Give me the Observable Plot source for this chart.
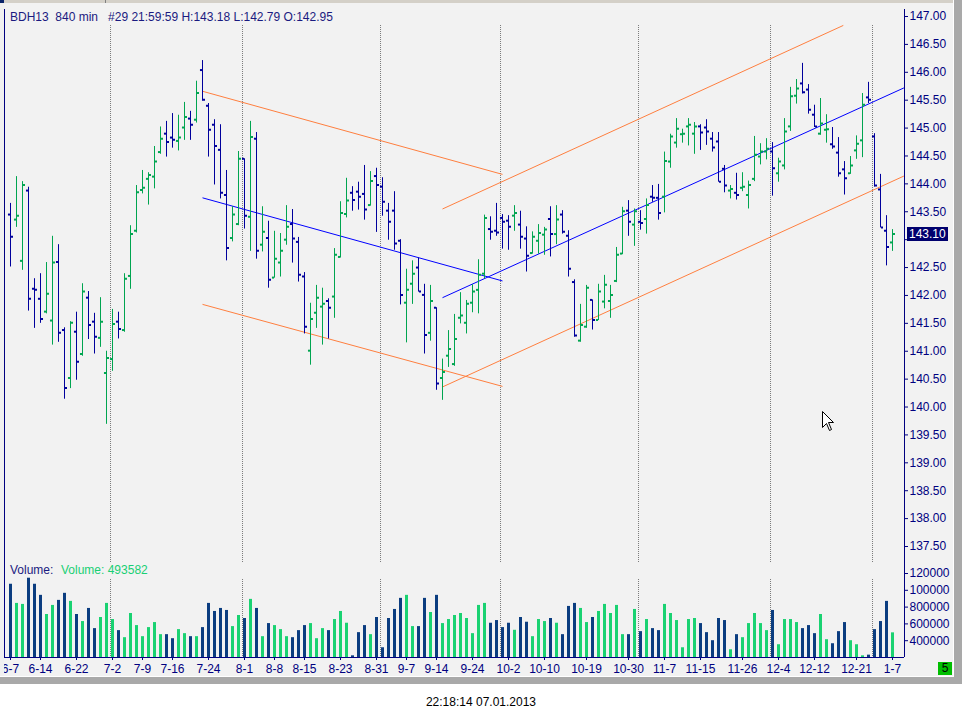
<!DOCTYPE html>
<html><head><meta charset="utf-8">
<script src="https://cdn.jsdelivr.net/npm/d3@7"></script>
<script src="https://cdn.jsdelivr.net/npm/@observablehq/plot@0.6"></script>
<style>
html,body{margin:0;padding:0;background:#fff;width:962px;height:719px;overflow:hidden;font-family:"Liberation Sans",Arial,sans-serif;}
#wrap{position:relative;width:962px;height:719px;}
.abs{position:absolute;}
.txt{font-size:12px;line-height:14px;white-space:pre;}
</style></head><body>
<div id="wrap">
  <div class="abs" style="left:0;top:3px;width:953px;height:673px;background:#F2F2F2;"></div>
  <div class="abs" style="left:0;top:0;width:962px;height:3px;background:#D4D0C8;"></div>
  <div class="abs" style="left:0;top:0;width:4px;height:3px;background:#0A246A;"></div>
  <div class="abs" style="left:105px;top:0;width:1px;height:3px;background:#808080;"></div>
  <div id="priceBox"></div>
  <div id="volBox"></div>
  <div class="abs" style="left:0;top:3px;width:4px;height:673px;background:#F0F0F0;z-index:5;"></div>
  <div class="abs" style="left:4px;top:9px;width:1px;height:649px;background:#000080;z-index:5;"></div>
  <div class="abs" style="left:953px;top:0;width:1px;height:677px;background:#FFFFFF;z-index:5;"></div>
  <div class="abs" style="left:954px;top:0;width:8px;height:684px;background:#A9A9A9;z-index:5;"></div>
  <div class="abs" style="left:0;top:676px;width:954px;height:1px;background:#FFFFFF;z-index:5;"></div>
  <div class="abs" style="left:0;top:677px;width:962px;height:7px;background:#A9A9A9;z-index:5;"></div>
  <div class="abs txt" id="header" style="left:10px;top:10px;color:#1A1A80;z-index:6;"></div>
  <div class="abs txt" style="left:10px;top:563px;color:#1A1A80;z-index:6;">Volume:</div>
  <div class="abs txt" id="volText" style="left:61px;top:563px;color:#19CF74;z-index:6;"></div>
  <div class="abs txt" id="stamp" style="left:0;top:695px;width:962px;text-align:center;color:#000;"></div>
  <div class="abs txt" id="pageBox" style="left:938px;top:662px;width:14px;height:13px;line-height:13px;background:#00BE00;color:#000;text-align:center;z-index:6;">5</div>
  <svg class="abs" style="left:822px;top:411px;z-index:7;" width="14" height="22" viewBox="0 0 14 22">
    <path d="M0.5,0.5 L0.5,16.5 L4.5,12.5 L7.5,19.5 L9.5,18.5 L6.5,11.5 L11.5,11.5 Z" fill="#FFFFFF" stroke="#000000" stroke-width="1"/>
  </svg>
</div>
<script>
const headerText = "BDH13  840 min   #29 21:59:59 H:143.18 L:142.79 O:142.95";
const timestampText = "22:18:14 07.01.2013";

const opens = [143.45,143.36,142.62,143.88,142.12,141.94,141.71,141.55,142.60,141.38,
140.52,141.35,140.95,141.96,141.53,141.24,140.61,140.86,141.53,141.38,
142.35,143.16,143.89,144.09,144.13,144.57,144.90,144.83,144.77,145.01,
145.17,145.15,146.04,145.40,145.06,144.61,143.80,143.03,143.28,144.45,
143.41,144.81,142.91,143.03,142.32,142.59,143.00,143.28,142.96,142.34,
141.01,141.69,141.80,141.90,141.98,142.69,143.46,143.84,143.86,143.82,
143.62,144.14,143.95,143.52,143.52,142.98,141.87,142.21,142.50,142.01,
141.33,141.78,140.52,140.92,140.77,141.60,141.51,141.87,142.10,142.39,
143.19,143.16,143.39,143.34,143.43,143.27,143.02,142.76,142.98,143.09,
143.37,143.10,143.45,143.07,142.24,141.19,141.44,141.92,141.56,141.89,
141.90,142.26,142.75,143.52,143.27,143.32,143.37,143.77,143.75,143.77,
144.40,144.74,144.89,145.03,144.90,145.03,145.01,144.81,144.76,144.27,
143.88,143.84,143.93,143.80,144.09,144.49,144.58,144.58,144.19,144.33,
145.03,145.58,145.80,145.69,145.24,144.90,144.97,144.71,144.56,144.26,
144.19,144.60,144.78,145.55,144.85,143.90,143.16,142.95];
const highs = [143.65,144.13,144.04,143.94,142.30,142.39,142.59,143.06,142.91,141.42,
141.53,141.70,142.21,142.07,141.68,141.96,141.00,141.75,141.70,142.39,
143.25,143.97,144.24,144.20,144.67,145.02,145.12,145.26,145.23,145.46,
145.30,145.84,146.21,145.44,145.15,145.06,144.24,143.59,144.58,144.45,
145.12,144.92,143.59,143.33,143.15,143.11,143.61,143.54,143.04,142.41,
141.86,142.18,142.13,141.94,142.84,143.68,144.10,143.95,144.03,144.33,
144.22,144.28,144.11,143.65,143.86,143.00,142.47,142.62,142.67,142.20,
142.18,141.78,140.86,141.37,141.66,142.05,141.91,142.19,142.64,143.44,
143.41,143.65,143.45,143.43,143.61,143.51,143.23,143.14,143.27,143.22,
143.59,143.61,143.52,143.16,142.28,141.84,142.18,141.92,142.20,142.36,
142.18,142.86,143.58,143.70,143.55,143.52,143.73,143.97,143.99,144.57,
144.89,145.17,144.98,145.17,145.10,145.06,145.15,144.92,144.92,144.33,
143.97,144.19,144.20,144.05,144.85,144.72,144.81,144.74,144.46,145.17,
145.73,145.87,146.16,145.78,145.41,145.53,145.24,145.01,144.83,144.40,
144.49,144.86,145.62,145.82,144.90,144.17,143.43,143.18];
const lows = [142.51,143.22,142.45,141.72,141.41,141.50,141.67,141.11,141.16,140.14,
140.33,140.48,140.91,141.21,140.95,141.07,139.69,140.64,141.22,141.34,
142.11,143.12,143.82,143.62,143.91,144.53,144.48,144.64,144.59,144.78,
144.78,145.09,145.48,144.48,143.98,143.73,142.62,142.96,143.25,143.19,
142.79,142.65,142.78,142.13,142.31,142.33,142.90,142.58,142.24,141.31,
140.75,141.41,141.11,141.22,141.59,142.67,143.39,143.51,143.53,143.35,
143.60,143.13,143.42,142.99,142.81,141.83,141.15,141.84,142.06,140.95,
141.18,140.30,140.12,140.71,140.73,141.49,141.31,141.69,141.67,142.30,
142.99,143.06,142.83,142.81,143.15,142.83,142.42,142.74,142.74,142.72,
142.69,142.91,143.10,142.33,141.25,141.16,141.41,141.38,141.55,141.76,
141.59,142.23,142.73,143.06,142.88,143.17,143.10,143.67,143.35,143.48,
144.28,144.64,144.73,144.68,144.53,144.60,144.69,144.57,144.03,143.84,
143.73,143.71,143.86,143.55,144.04,144.34,144.43,143.78,144.03,144.25,
144.94,145.43,145.61,145.25,145.01,144.87,144.73,144.62,144.12,143.80,
144.17,144.44,144.47,145.44,143.94,143.21,142.53,142.79];
const closes = [143.05,143.43,143.98,141.94,142.10,141.58,142.03,142.59,141.33,140.34,
141.51,140.81,142.07,141.47,141.26,141.53,140.88,141.49,141.40,142.30,
143.10,143.85,143.93,144.16,144.40,144.81,144.75,144.79,144.83,145.20,
145.06,145.63,145.51,144.97,144.68,143.84,142.85,143.45,144.45,143.43,
144.84,142.80,143.14,142.28,142.66,142.80,143.23,143.02,142.37,141.44,
141.58,141.96,141.85,141.78,142.73,143.48,143.70,143.71,143.77,143.54,
144.05,143.98,143.68,143.32,142.93,142.01,142.10,142.39,142.07,141.29,
141.90,140.42,140.63,141.04,141.22,141.64,141.85,142.07,142.37,143.39,
143.14,143.13,143.32,143.23,143.48,143.05,142.71,143.05,143.12,143.18,
143.10,143.36,143.14,142.48,141.28,141.47,142.14,141.56,142.07,142.19,
142.01,142.73,143.51,143.32,143.51,143.30,143.62,143.75,143.48,144.41,
144.85,144.99,144.90,145.06,145.03,144.92,144.94,144.65,144.04,143.97,
143.91,143.80,143.95,143.98,144.52,144.58,144.63,144.28,144.40,144.94,
145.57,145.71,145.64,145.33,145.03,145.08,144.98,144.67,144.19,144.10,
144.33,144.72,145.42,145.51,143.97,143.22,142.87,143.10];
const volumes = [1072000,844000,832000,1144000,1072000,940000,712000,820000,880000,964000,
868000,712000,628000,784000,544000,676000,844000,652000,520000,436000,
724000,580000,448000,556000,616000,472000,472000,424000,532000,484000,
448000,448000,556000,844000,748000,784000,760000,568000,700000,664000,
892000,784000,448000,604000,580000,532000,448000,436000,520000,580000,
604000,424000,544000,520000,652000,748000,608000,220000,496000,580000,
472000,676000,316000,664000,772000,904000,940000,568000,568000,904000,
736000,940000,604000,652000,700000,724000,664000,484000,820000,844000,
608000,640000,556000,608000,524000,676000,620000,448000,652000,628000,
664000,608000,472000,808000,844000,784000,616000,676000,748000,832000,
724000,820000,472000,472000,772000,508000,652000,544000,520000,832000,
724000,640000,316000,652000,664000,604000,496000,400000,664000,640000,
292000,472000,436000,604000,724000,604000,520000,760000,352000,652000,
652000,616000,544000,580000,484000,712000,412000,364000,508000,616000,
400000,352000,220000,228000,532000,628000,868000,493582];

const dateTickIdx = [0,5,11,17,22,27,33,39,44,49,55,61,66,71,77,83,89,96,103,109,115,122,128,134,141,147];
const dateTickText = ["6-7","6-14","6-22","7-2","7-9","7-16","7-24","8-1","8-8","8-15","8-23","8-31","9-7","9-14","9-24","10-2","10-10","10-19","10-30","11-7","11-15","11-26","12-4","12-12","12-21","1-7"];
const monthStartIdx = [17,39,62,82,105,127,144];

const priceTicks = [137.5,138,138.5,139,139.5,140,140.5,141,141.5,142,142.5,143,143.5,144,144.5,145,145.5,146,146.5,147];
const volTicks = [400000,600000,800000,1000000,1200000];
const volTickText = ["400000","600000","800000","100000","120000"];

const trendX1 = [32,32,32,72,72,72];
const trendY1 = [145.66,143.75,141.84,143.55,141.96,140.36];
const trendX2 = [82,82,82,138.8,148.9,148.9];
const trendY2 = [144.17,142.26,140.37,146.84,145.72,144.14];
const trendKind = ["channel","center","channel","channel","center","channel"];

const priceUp = "#00A550", priceDown = "#00009C";
const volUp = "#1AD272", volDown = "#0B3D80";
const navy = "#000080";
const sepColor = "#7A7A7A";

const bars = opens.map((o, i) => ({i, open: o, high: highs[i], low: lows[i], close: closes[i], volume: volumes[i], up: closes[i] >= o}));
const trends = trendX1.map((x, k) => ({x1: x, y1: trendY1[k], x2: trendX2[k], y2: trendY2[k], color: trendKind[k] === "center" ? "#0000FF" : "#FF7F3F"}));
const lastClose = closes[closes.length - 1];

document.getElementById("header").textContent = headerText;
document.getElementById("stamp").textContent = timestampText;
document.getElementById("volText").textContent = "Volume: " + volumes[volumes.length - 1];

const baseStyle = {background: "transparent", color: navy, fontFamily: "'Liberation Sans', Arial, sans-serif", fontSize: "12px", overflow: "visible"};
const xDomain = [-1, 149];

// the last-price tag hides the axis label that it sits on, as in the reference
const priceLabel = d => Math.abs(d - lastClose) < 0.13 ? "" : d.toFixed(2);

const price = Plot.plot({
  width: 962, height: 563,
  marginLeft: 4, marginRight: 58, marginTop: 16, marginBottom: 17,
  style: baseStyle,
  x: {domain: xDomain, axis: null},
  y: {domain: [137.5, 147], axis: null},
  marks: [
    Plot.ruleX(monthStartIdx, {x: d => d - 0.33, stroke: sepColor, strokeDasharray: "1,1", insetTop: 9, insetBottom: -16}),
    Plot.link(trends, {x1: "x1", y1: "y1", x2: "x2", y2: "y2", stroke: "color", strokeWidth: 1}),
    Plot.ruleX(bars, {x: "i", y1: "low", y2: "high", stroke: d => d.up ? priceUp : priceDown, strokeWidth: 1}),
    Plot.ruleY(bars, {y: "open", x1: d => d.i - 0.34, x2: d => d.i, stroke: d => d.up ? priceUp : priceDown, strokeWidth: 2}),
    Plot.ruleY(bars, {y: "close", x1: d => d.i + 0.17, x2: d => d.i + 0.5, stroke: d => d.up ? priceUp : priceDown, strokeWidth: 2}),
    Plot.ruleX([149], {stroke: navy, insetTop: -7, insetBottom: -17}),
    Plot.axisY(priceTicks, {anchor: "right", tickFormat: priceLabel, tickSize: 3, tickPadding: 2, label: null})
  ]
});
const pb = document.getElementById("priceBox");
pb.className = "abs"; pb.style.left = "0px"; pb.style.top = "0px"; pb.style.zIndex = 2;
pb.appendChild(price);

// last price marker positioned through the plot's own y scale
const ys = price.scale("y");
const yScale = d3.scaleLinear(ys.domain, ys.range);
const tag = document.createElement("div");
tag.className = "abs txt";
tag.textContent = lastClose.toFixed(2);
Object.assign(tag.style, {left: "907px", top: (yScale(lastClose) - 7) + "px", width: "41px", height: "14px", lineHeight: "14px", background: "#00006E", color: "#FFFFFF", paddingLeft: "2px", boxSizing: "border-box", zIndex: 4});
document.getElementById("wrap").appendChild(tag);

const vol = Plot.plot({
  width: 962, height: 113,
  marginLeft: 4, marginRight: 58, marginTop: 10, marginBottom: 19,
  style: baseStyle,
  x: {domain: xDomain, axis: null},
  y: {domain: [200000, 1200000], axis: null},
  marks: [
    Plot.ruleX(monthStartIdx, {x: d => d - 0.33, stroke: sepColor, strokeDasharray: "1,1", insetTop: 6}),
    Plot.ruleX(bars, {x: "i", y1: 200000, y2: "volume", stroke: d => d.up ? volUp : volDown, strokeWidth: 3}),
    Plot.ruleX([149], {stroke: navy, insetTop: -10}),
    Plot.ruleY([200000], {stroke: navy}),
    Plot.axisY(volTicks, {anchor: "right", tickFormat: d => volTickText[volTicks.indexOf(d)], tickSize: 3, tickPadding: 2, label: null}),
    Plot.axisX(dateTickIdx, {anchor: "bottom", tickFormat: d => dateTickText[dateTickIdx.indexOf(d)], tickSize: 3, tickPadding: 4, label: null})
  ]
});
const vb = document.getElementById("volBox");
vb.className = "abs"; vb.style.left = "0px"; vb.style.top = "563px"; vb.style.zIndex = 2;
vb.appendChild(vol);
</script>
</body></html>
